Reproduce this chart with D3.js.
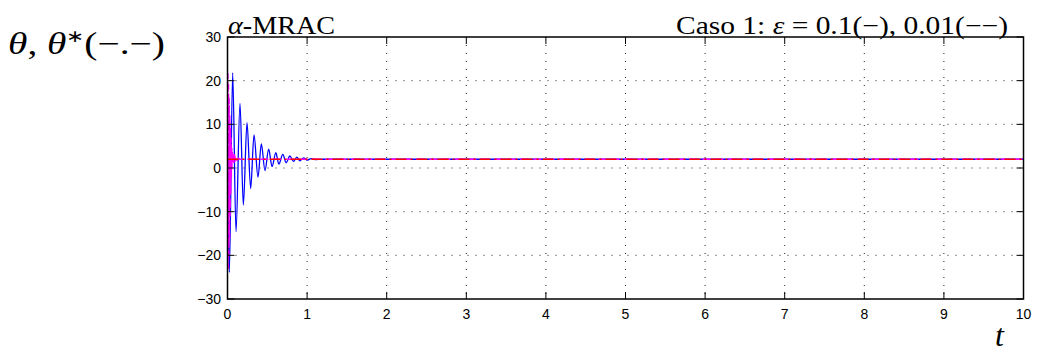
<!DOCTYPE html>
<html>
<head>
<meta charset="utf-8">
<script src="https://cdn.jsdelivr.net/npm/d3@7"></script>
<style>
  body { margin: 0; background: #fff; }
  svg { display: block; }
</style>
</head>
<body>
<div id="container"></div>
<script>
// Axis ticks
const xTicks = [0, 1, 2, 3, 4, 5, 6, 7, 8, 9, 10];
const yTicks = [-30, -20, -10, 0, 10, 20, 30];

// theta, eps = 0.1 (blue, solid) - extrema
const blueT = [0, 0.023, 0.065, 0.107, 0.157, 0.199, 0.245, 0.291, 0.333, 0.383, 0.425, 0.471,
  0.517, 0.56, 0.607, 0.645, 0.695, 0.737, 0.783, 0.83, 0.87, 0.91, 0.956, 1.0, 1.05, 1.1, 1.2, 10];
const blueV = [0, -23.9, 21.8, -14.6, 14.8, -8.5, 10.4, -4.7, 7.6, -2.1, 5.5, -0.6,
  4.3, 0.3, 3.5, 0.9, 3.1, 1.2, 2.75, 1.5, 2.5, 1.65, 2.3, 1.8, 2.15, 1.95, 2, 2];

// theta, eps = 0.01 (magenta, dashed)
const magT = [0, 0.004, 0.008, 0.012, 0.016, 0.02, 0.024, 0.028, 0.032, 0.036, 0.04, 0.044,
  0.048, 0.052, 0.056, 0.06, 0.065, 0.07, 0.08, 0.09, 0.1, 0.11, 0.12, 0.14, 0.16, 10];
const magV = [0, 21.5, -23, 19, -20, 16, -16, 12, -11, 9, -6, 7,
  -2, 5, 0, 4, 1, 3.5, 1.2, 3, 1.6, 2.5, 1.8, 2.2, 2, 2];

// theta* (red, dash-dot)
const refT = [0, 10];
const refV = [2, 2];

const width = 1038, height = 353;
const mLeft = 227.5, mRight = 1023.5, mTop = 37, mBottom = 299;

const svg = d3.select("#container").append("svg")
  .attr("width", width)
  .attr("height", height);

const x = d3.scaleLinear().domain([0, 10]).range([mLeft, mRight]);
const y = d3.scaleLinear().domain([-30, 30]).range([mBottom, mTop]);

// dotted grid
svg.append("g").selectAll("line")
  .data(xTicks.slice(1, -1))
  .join("line")
  .attr("x1", d => x(d)).attr("x2", d => x(d))
  .attr("y1", mTop).attr("y2", mBottom)
  .attr("stroke", "#222").attr("stroke-width", 1)
  .attr("stroke-dasharray", "1,7");

svg.append("g").selectAll("line")
  .data(yTicks.slice(1, -1))
  .join("line")
  .attr("x1", mLeft).attr("x2", mRight)
  .attr("y1", d => y(d)).attr("y2", d => y(d))
  .attr("stroke", "#222").attr("stroke-width", 1)
  .attr("stroke-dasharray", "1,7");

// curves, clipped to the axes box
svg.append("clipPath").attr("id", "clip")
  .append("rect").attr("x", mLeft).attr("y", mTop)
  .attr("width", mRight - mLeft).attr("height", mBottom - mTop);

const line = d3.line()
  .x(d => x(d[0]))
  .y(d => y(d[1]))
  .curve(d3.curveMonotoneX);

const plot = svg.append("g").attr("clip-path", "url(#clip)");

plot.append("path")
  .attr("d", line(d3.zip(blueT, blueV)))
  .attr("fill", "none").attr("stroke", "#0000ff").attr("stroke-width", 1.3);

plot.append("path")
  .attr("d", line(d3.zip(magT, magV)))
  .attr("fill", "none").attr("stroke", "#ff00ff").attr("stroke-width", 1.6)
  .attr("stroke-dasharray", "8,5");

plot.append("path")
  .attr("d", line(d3.zip(refT, refV)))
  .attr("fill", "none").attr("stroke", "#ff0000").attr("stroke-width", 1.6)
  .attr("stroke-dasharray", "11,4,2,4");

// axes with inward ticks on all four sides
const tickLen = 7;
const axes = svg.append("g").attr("stroke", "#000").attr("stroke-width", 1);
xTicks.forEach(t => {
  axes.append("line").attr("x1", x(t)).attr("x2", x(t)).attr("y1", mBottom).attr("y2", mBottom - tickLen);
  axes.append("line").attr("x1", x(t)).attr("x2", x(t)).attr("y1", mTop).attr("y2", mTop + tickLen);
});
yTicks.forEach(t => {
  axes.append("line").attr("x1", mLeft).attr("x2", mLeft + tickLen).attr("y1", y(t)).attr("y2", y(t));
  axes.append("line").attr("x1", mRight).attr("x2", mRight - tickLen).attr("y1", y(t)).attr("y2", y(t));
});
svg.append("rect")
  .attr("x", mLeft).attr("y", mTop)
  .attr("width", mRight - mLeft).attr("height", mBottom - mTop)
  .attr("fill", "none").attr("stroke", "#000").attr("stroke-width", 1.5);

// tick labels
svg.append("g").selectAll("text")
  .data(xTicks)
  .join("text")
  .attr("x", d => x(d)).attr("y", 319)
  .attr("text-anchor", "middle")
  .attr("font-family", "Liberation Sans, Arial, sans-serif")
  .attr("font-size", 14)
  .text(d => d);

svg.append("g").selectAll("text")
  .data(yTicks)
  .join("text")
  .attr("x", 221).attr("y", d => y(d) + 5)
  .attr("text-anchor", "end")
  .attr("font-family", "Liberation Sans, Arial, sans-serif")
  .attr("font-size", 14)
  .text(d => d < 0 ? "\u2212" + Math.abs(d) : d);

// titles and axis labels
const serif = "Liberation Serif, Times New Roman, serif";

svg.append("text")
  .attr("x", 228).attr("y", 34)
  .attr("font-family", serif).attr("font-size", 25)
  .attr("textLength", 107).attr("lengthAdjust", "spacingAndGlyphs")
  .html('<tspan font-style="italic">α</tspan>-MRAC');

svg.append("text")
  .attr("x", 676).attr("y", 34)
  .attr("font-family", serif).attr("font-size", 25)
  .attr("textLength", 332).attr("lengthAdjust", "spacingAndGlyphs")
  .html('Caso 1: <tspan font-style="italic">ε</tspan> = 0.1(−), 0.01(−−)');

svg.append("text")
  .attr("x", 8).attr("y", 54)
  .attr("font-family", serif).attr("font-size", 31)
  .attr("textLength", 157).attr("lengthAdjust", "spacingAndGlyphs")
  .html('<tspan font-style="italic">θ</tspan>, <tspan font-style="italic">θ</tspan><tspan dy="-12" font-size="17">∗</tspan><tspan dy="12">(−.−)</tspan>');

svg.append("text")
  .attr("x", 995).attr("y", 346)
  .attr("font-family", serif).attr("font-size", 32)
  .attr("font-style", "italic")
  .text("t");
</script>
</body>
</html>
